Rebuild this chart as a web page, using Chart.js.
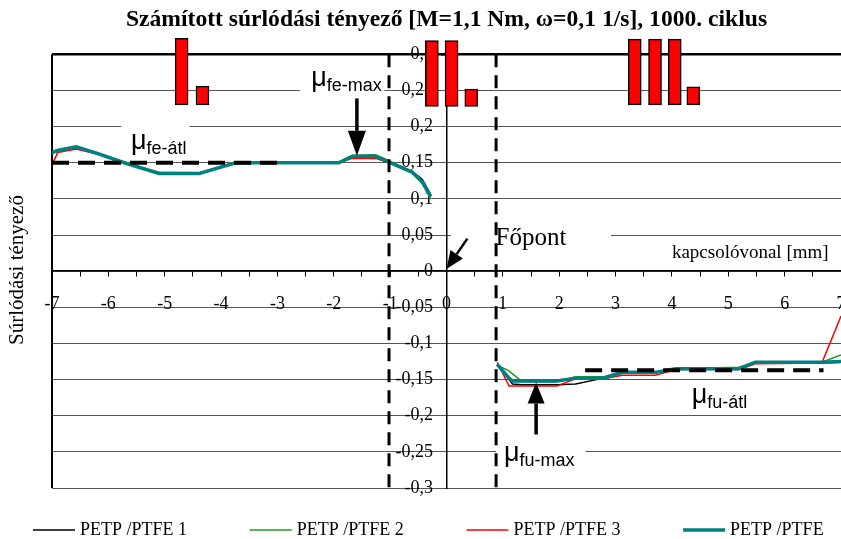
<!DOCTYPE html>
<html>
<head>
<meta charset="utf-8">
<script src="https://cdn.jsdelivr.net/npm/chart.js@4.4.1/dist/chart.umd.min.js"></script>
<style>
  html, body { margin: 0; padding: 0; background: #fff; }
</style>
</head>
<body>
<canvas id="frictionChart" width="841" height="539"></canvas>
<script>
// positions along the line of action [mm]
const xApproach = [-7, -6.9, -6.57, -6.2, -5.72, -5.1, -4.39, -3.74, -3.0, -1.91, -1.67, -1.26, -1.02, -0.61, -0.43, -0.28];
const xRecess = [0.9, 1.11, 1.17, 1.35, 1.96, 2.29, 2.79, 3.12, 3.71, 4.06, 5.19, 5.48, 6.66, 7.0];

// friction coefficient, approach side (positive) and recess side (negative)
const petp1Approach = [0.163, 0.166, 0.171, 0.163, 0.150, 0.136, 0.136, 0.150, 0.150, 0.150, 0.158, 0.158, 0.152, 0.138, 0.127, 0.106];
const petp2Approach = [0.162, 0.168, 0.172, 0.164, 0.151, 0.137, 0.136, 0.151, 0.151, 0.151, 0.160, 0.161, 0.153, 0.136, 0.121, 0.100];
const petp3Approach = [0.147, 0.164, 0.169, 0.162, 0.150, 0.136, 0.136, 0.150, 0.150, 0.150, 0.156, 0.156, 0.150, 0.136, 0.124, 0.104];
const petpAvgApproach = [0.164, 0.167, 0.172, 0.163, 0.150, 0.135, 0.135, 0.150, 0.150, 0.150, 0.159, 0.159, 0.151, 0.137, 0.124, 0.103];

const petp1Recess = [-0.128, -0.150, -0.156, -0.157, -0.157, -0.156, -0.148, -0.141, -0.141, -0.135, -0.135, -0.127, -0.127, -0.126];
const petp2Recess = [-0.130, -0.138, -0.142, -0.153, -0.153, -0.146, -0.146, -0.139, -0.139, -0.135, -0.133, -0.126, -0.126, -0.116];
const petp3Recess = [-0.126, -0.159, -0.159, -0.159, -0.159, -0.149, -0.149, -0.144, -0.144, -0.136, -0.136, -0.128, -0.127, -0.062];
const petpAvgRecess = [-0.129, -0.148, -0.152, -0.152, -0.152, -0.148, -0.148, -0.140, -0.140, -0.135, -0.135, -0.126, -0.126, -0.125];

// mean values and their ranges
const meanApproach = 0.15;
const meanApproachRange = [-7, -2.85];
const meanRecess = -0.137;
const meanRecessRange = [2.46, 6.69];

// borders of the single / double contact zone
const zoneBorders = [-1.02, 0.88];

// red tooth marks at the top
const barX = [-4.70, -4.33, -0.26, 0.09, 0.44, 3.34, 3.70, 4.05, 4.38];
const barLow = [0.23, 0.23, 0.228, 0.228, 0.228, 0.23, 0.23, 0.23, 0.23];
const barHigh = [0.322, 0.256, 0.319, 0.319, 0.252, 0.321, 0.321, 0.321, 0.255];

const seriesNames = ['PETP /PTFE 1', 'PETP /PTFE 2', 'PETP /PTFE 3', 'PETP /PTFE'];

const serif = 'Liberation Serif';
const sans = 'Liberation Sans';

const toPoints = (a, b) => [
    ...xApproach.map((x, i) => ({x: x, y: a[i]})),
    {x: 0.3, y: null},
    ...xRecess.map((x, i) => ({x: x, y: b[i]}))
];

// decimal comma; trailing spaces keep the labels off the axis line
const fmtTick = v => String(Math.round(v * 100) / 100).replace('.', ',') + '   ';

function arrow(ctx, x1, y1, x2, y2, w, head, headW) {
    const a = Math.atan2(y2 - y1, x2 - x1);
    const bx = x2 - head * Math.cos(a), by = y2 - head * Math.sin(a);
    ctx.beginPath();
    ctx.moveTo(x1, y1);
    ctx.lineTo(bx, by);
    ctx.lineWidth = w;
    ctx.stroke();
    ctx.beginPath();
    ctx.moveTo(x2, y2);
    ctx.lineTo(bx + headW / 2 * Math.sin(a), by - headW / 2 * Math.cos(a));
    ctx.lineTo(bx - headW / 2 * Math.sin(a), by + headW / 2 * Math.cos(a));
    ctx.closePath();
    ctx.fill();
}

function mu(ctx, x, y, sub) {
    ctx.textAlign = 'left';
    ctx.textBaseline = 'alphabetic';
    ctx.font = '27px ' + sans;
    ctx.fillText('μ', x, y);
    const w = ctx.measureText('μ').width;
    ctx.font = '18px ' + sans;
    ctx.fillText(sub, x + w, y + 5);
}

//labels, arrows, white label boxes and the legend
const decor = {
    id: 'decor',
    beforeDatasetsDraw(chart) {
        const {ctx, chartArea, scales: {x, y}} = chart;
        ctx.save();
        ctx.fillStyle = '#fff';
        const boxes = [[-5.77, 0.215, -4.56, 0.165], [-2.6, 0.28, -1.1, 0.24], [0.08, 0.07, 2.92, 0.015], [0.88, -0.235, 2.47, -0.29]];
        boxes.forEach(b => {
            ctx.fillRect(x.getPixelForValue(b[0]), y.getPixelForValue(b[1]),
                x.getPixelForValue(b[2]) - x.getPixelForValue(b[0]), y.getPixelForValue(b[3]) - y.getPixelForValue(b[1]));
        });
        // left frame line
        ctx.strokeStyle = '#000';
        ctx.lineWidth = 2;
        ctx.beginPath();
        ctx.moveTo(chartArea.left, chartArea.top);
        ctx.lineTo(chartArea.left, chartArea.bottom);
        ctx.stroke();
        ctx.restore();
    },
    afterDraw(chart) {
        const {ctx, scales: {x, y}} = chart;
        const X = v => x.getPixelForValue(v);
        const Y = v => y.getPixelForValue(v);
        ctx.save();
        ctx.fillStyle = '#000';
        ctx.strokeStyle = '#000';

        arrow(ctx, X(-1.59), Y(0.239), X(-1.59), Y(0.1596), 3.5, 25, 18);
        arrow(ctx, X(1.59), Y(-0.226), X(1.59), Y(-0.154), 3.5, 21, 17);
        arrow(ctx, X(0.37), Y(0.045), X(0.0), Y(0.003), 2.5, 18, 15);

        mu(ctx, X(-5.60), Y(0.169), 'fe-átl');
        mu(ctx, X(-2.40), Y(0.256), 'fe-max');
        mu(ctx, X(4.35), Y(-0.183), 'fu-átl');
        mu(ctx, X(1.02), Y(-0.262), 'fu-max');

        ctx.font = '25px ' + serif;
        ctx.textAlign = 'left';
        ctx.fillText('Főpont', X(0.87), Y(0.036));

        ctx.font = '19px ' + serif;
        ctx.textAlign = 'right';
        ctx.fillText('kapcsolóvonal [mm]', X(6.78), Y(0.018));

        // y axis title
        ctx.save();
        ctx.translate(17, 270);
        ctx.rotate(-Math.PI / 2);
        ctx.textAlign = 'center';
        ctx.textBaseline = 'middle';
        ctx.font = '21px ' + serif;
        ctx.fillText('Súrlódási tényező', 0, 0);
        ctx.restore();

        // legend
        ctx.textAlign = 'left';
        ctx.textBaseline = 'middle';
        ctx.font = '18px ' + serif;
        seriesNames.forEach((name, i) => {
            const ds = chart.data.datasets.find(d => d.label === name);
            const x0 = 33 + i * 216.7;
            ctx.strokeStyle = ds.borderColor;
            ctx.lineWidth = ds.borderWidth;
            ctx.beginPath();
            ctx.moveTo(x0, 530);
            ctx.lineTo(x0 + 42, 530);
            ctx.stroke();
            ctx.fillStyle = '#000';
            ctx.fillText(name, x0 + 47, 530);
        });
        ctx.restore();
    }
};

const lineStyle = {pointRadius: 0, tension: 0, fill: false, spanGaps: false};

const ctx = document.getElementById('frictionChart');

const frictionChart = new Chart(ctx, {
    type: 'line',
    data: {
        datasets: [
            {label: 'PETP /PTFE', data: toPoints(petpAvgApproach, petpAvgRecess), borderColor: '#008080', borderWidth: 3.5, order: 0, ...lineStyle},
            {label: 'PETP /PTFE 3', data: toPoints(petp3Approach, petp3Recess), borderColor: '#ff0000', borderWidth: 1.5, order: 1, ...lineStyle},
            {label: 'PETP /PTFE 2', data: toPoints(petp2Approach, petp2Recess), borderColor: '#1f9a1f', borderWidth: 1.5, order: 2, ...lineStyle},
            {label: 'PETP /PTFE 1', data: toPoints(petp1Approach, petp1Recess), borderColor: '#000000', borderWidth: 1.5, order: 3, ...lineStyle},
            {label: 'átl fe', data: meanApproachRange.map(v => ({x: v, y: meanApproach})), borderColor: '#000', borderWidth: 4, borderDash: [17, 9], order: -1, ...lineStyle},
            {label: 'átl fu', data: meanRecessRange.map(v => ({x: v, y: meanRecess})), borderColor: '#000', borderWidth: 4, borderDash: [17, 9], order: -1, ...lineStyle},
            {label: 'zóna 1', data: [{x: zoneBorders[0], y: 0.3}, {x: zoneBorders[0], y: -0.3}], borderColor: '#000', borderWidth: 3, borderDash: [13, 8], order: -1, clip: false, ...lineStyle},
            {label: 'zóna 2', data: [{x: zoneBorders[1], y: 0.3}, {x: zoneBorders[1], y: -0.3}], borderColor: '#000', borderWidth: 3, borderDash: [13, 8], order: -1, clip: false, ...lineStyle},
            {
                type: 'bar',
                label: 'fogak',
                data: barX.map((v, i) => ({x: v, y: [barLow[i], barHigh[i]]})),
                backgroundColor: '#ff0000',
                borderColor: '#000',
                borderWidth: 1.5,
                borderSkipped: false,
                barThickness: 13,
                grouped: false,
                clip: false,
                order: -2
            }
        ]
    },
    options: {
        responsive: false,
        animation: false,
        devicePixelRatio: 1,
        layout: {
            padding: {left: 52, right: 0, top: 0, bottom: 51}
        },
        plugins: {
            legend: {display: false},
            tooltip: {enabled: false},
            title: {
                display: true,
                text: 'Számított súrlódási tényező [M=1,1 Nm, ω=0,1 1/s], 1000. ciklus',
                color: '#000',
                font: {family: serif, size: 23.6, weight: 'bold'},
                padding: {top: 6, bottom: 20}
            }
        },
        scales: {
            x: {
                type: 'linear',
                min: -7,
                max: 7,
                offset: false,
                position: {y: 0},
                ticks: {
                    stepSize: 0.5,
                    autoSkip: false,
                    maxRotation: 0,
                    padding: 17,
                    color: '#000',
                    font: {family: serif, size: 18},
                    callback: v => Math.abs(v - Math.round(v)) < 1e-6 ? String(Math.round(v)) : ''
                },
                grid: {offset: false, drawOnChartArea: false, tickLength: 5, color: '#000', lineWidth: 1},
                border: {color: '#000', width: 1.5},
                afterFit: s => { s.paddingLeft = 0; s.paddingRight = 0; }
            },
            y: {
                type: 'linear',
                min: -0.3,
                max: 0.3,
                position: {x: 0},
                ticks: {
                    stepSize: 0.05,
                    color: '#000',
                    font: {family: serif, size: 18},
                    callback: v => fmtTick(v)
                },
                grid: {
                    color: ctx => ctx.tick && ctx.tick.value > 0.29 ? '#000' : '#555',
                    lineWidth: ctx => ctx.tick && ctx.tick.value > 0.29 ? 2.5 : 1,
                    tickLength: 5
                },
                border: {color: '#000', width: 1.5}
            }
        }
    },
    plugins: [decor]
});
</script>
</body>
</html>
